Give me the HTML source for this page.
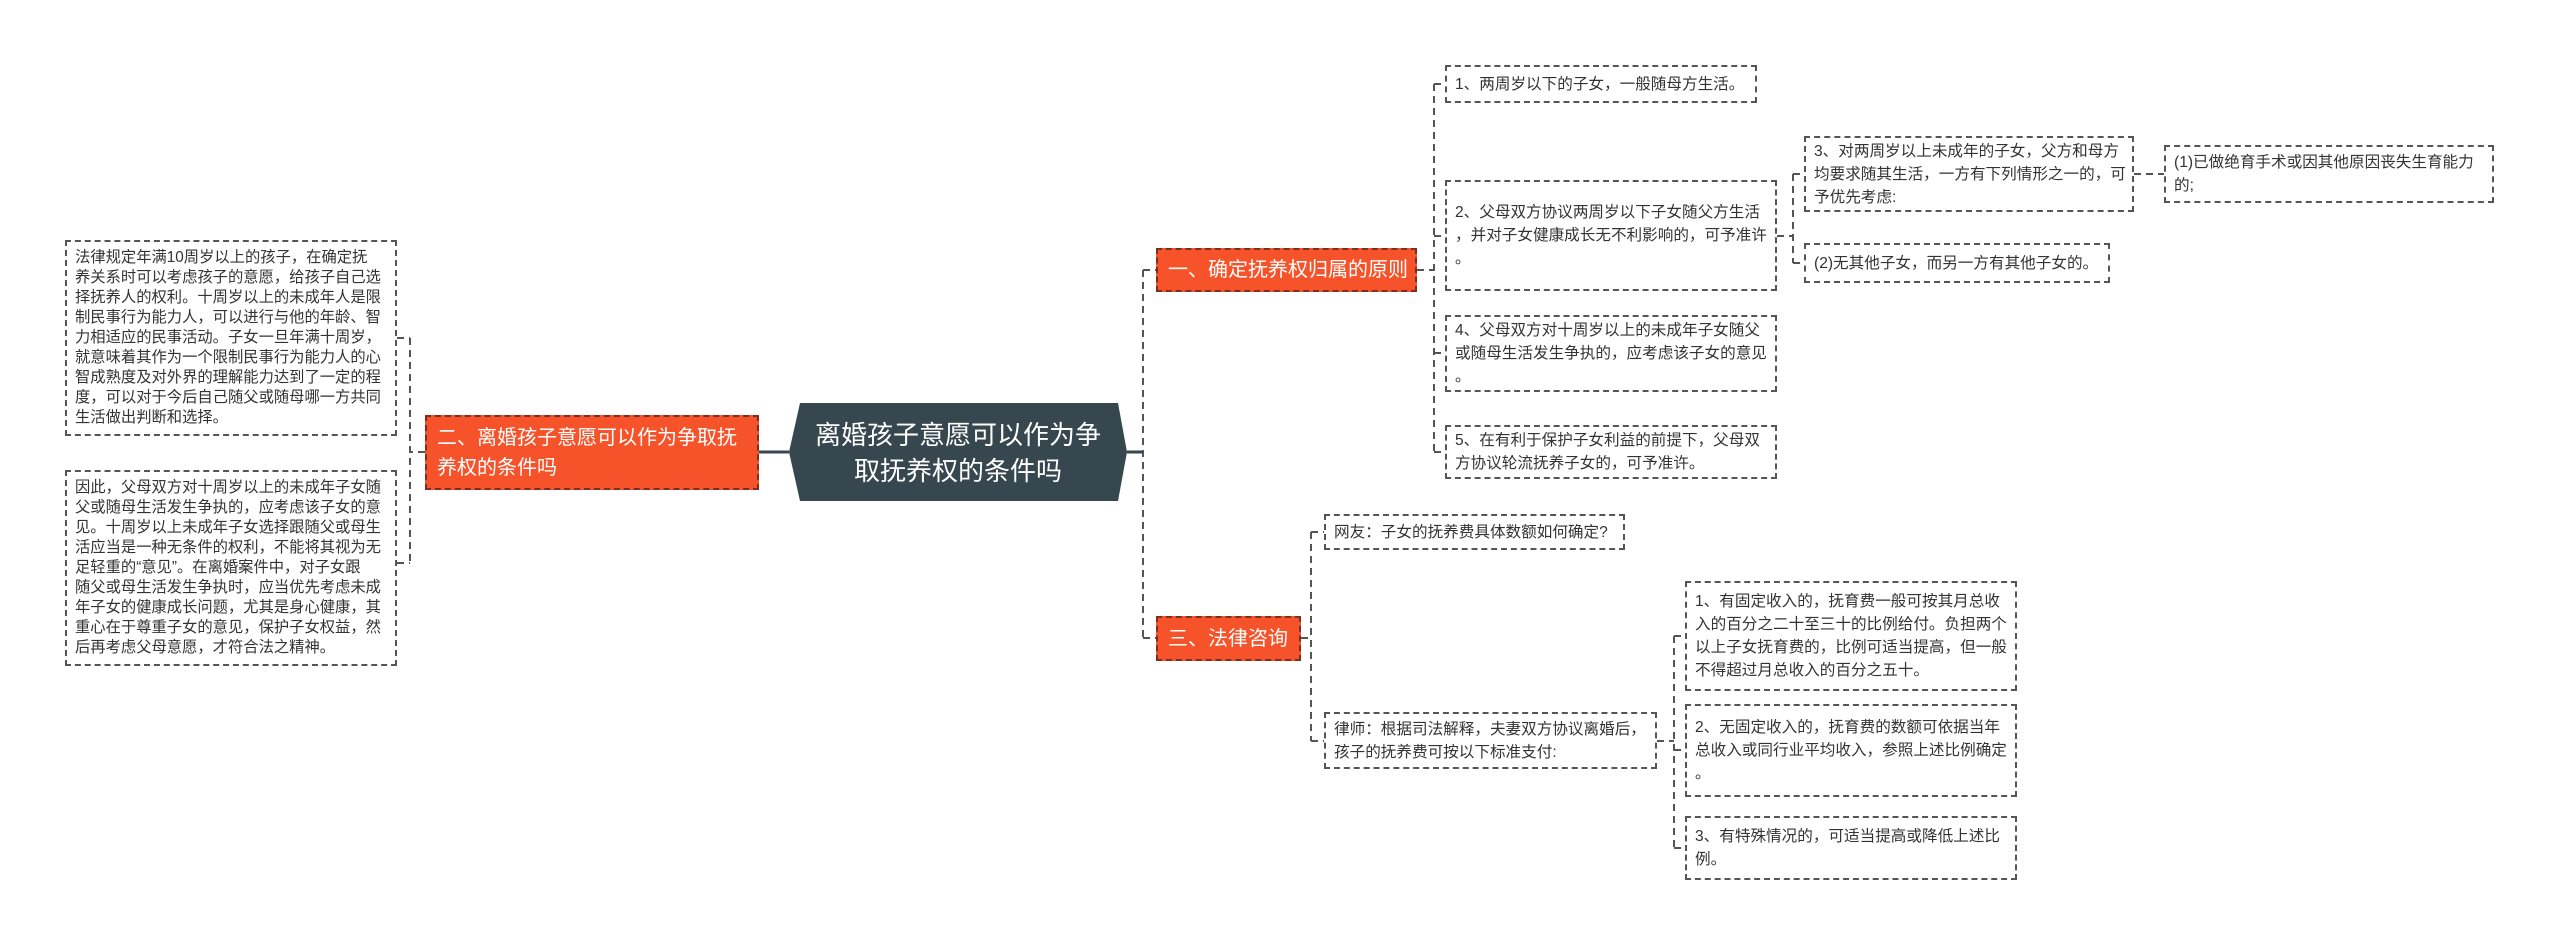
<!DOCTYPE html>
<html><head><meta charset="utf-8"><style>
html,body{margin:0;padding:0;background:#fff;}
body{width:2560px;height:947px;position:relative;overflow:hidden;font-family:"Liberation Sans","Noto Sans CJK SC",sans-serif;}
.b{position:absolute;box-sizing:border-box;border:2px dashed #555;color:#333;font-size:15.6px;line-height:23px;padding:0 8px;display:flex;flex-direction:column;justify-content:center;white-space:nowrap;background:#fff;overflow:hidden;}
.o{position:absolute;box-sizing:border-box;background:#f6532a;border:2px dashed #7a3020;color:#fff;font-size:20px;line-height:30px;padding:0 10px;display:flex;flex-direction:column;justify-content:center;white-space:nowrap;}
.l{line-height:20px;font-size:15.3px;}
svg{position:absolute;left:0;top:0;}
</style></head><body>
<svg width="2560" height="947">
<g stroke="#555" stroke-width="2" fill="none" stroke-dasharray="7 5">
<path d="M425 452 H410 M410 338 V563 M397 338 H410 M397 563 H410"/>
<path d="M1143 270 V638 M1143 270 H1156 M1143 638 H1156"/>
<path d="M1417 270 H1434 M1434 84 V452 M1434 84 H1445 M1434 236 H1445 M1434 353 H1445 M1434 452 H1445"/>
<path d="M1777 236 H1793 M1793 174 V263 M1793 174 H1804 M1793 263 H1804"/>
<path d="M2134 174 H2164"/>
<path d="M1301 638 H1311 M1311 532 V741 M1311 532 H1324 M1311 741 H1324"/>
<path d="M1657 741 H1674 M1674 636 V848 M1674 636 H1685 M1674 750 H1685 M1674 848 H1685"/>
</g>
<path d="M759 452 H789 M1127 452 H1143" stroke="#37474f" stroke-width="3"/>
<polygon points="800,403 1118,403 1127,452 1118,501 800,501 789,452" fill="#37474f"/>
<text x="958" y="444" fill="#fff" font-size="26" text-anchor="middle" font-family="Liberation Sans,Noto Sans CJK SC,sans-serif">离婚孩子意愿可以作为争</text>
<text x="958" y="480" fill="#fff" font-size="26" text-anchor="middle" font-family="Liberation Sans,Noto Sans CJK SC,sans-serif">取抚养权的条件吗</text>
</svg>

<div class="o" style="left:425px;top:415px;width:334px;height:75px;">二、离婚孩子意愿可以作为争取抚<br>养权的条件吗</div>
<div class="b l" style="left:65px;top:240px;width:332px;height:196px;">法律规定年满10周岁以上的孩子，在确定抚<br>养关系时可以考虑孩子的意愿，给孩子自己选<br>择抚养人的权利。十周岁以上的未成年人是限<br>制民事行为能力人，可以进行与他的年龄、智<br>力相适应的民事活动。子女一旦年满十周岁，<br>就意味着其作为一个限制民事行为能力人的心<br>智成熟度及对外界的理解能力达到了一定的程<br>度，可以对于今后自己随父或随母哪一方共同<br>生活做出判断和选择。</div>
<div class="b l" style="left:65px;top:470px;width:332px;height:196px;">因此，父母双方对十周岁以上的未成年子女随<br>父或随母生活发生争执的，应考虑该子女的意<br>见。十周岁以上未成年子女选择跟随父或母生<br>活应当是一种无条件的权利，不能将其视为无<br>足轻重的“意见”。在离婚案件中，对子女跟<br>随父或母生活发生争执时，应当优先考虑未成<br>年子女的健康成长问题，尤其是身心健康，其<br>重心在于尊重子女的意见，保护子女权益，然<br>后再考虑父母意愿，才符合法之精神。</div>

<div class="o" style="left:1156px;top:248px;width:261px;height:44px;">一、确定抚养权归属的原则</div>
<div class="o" style="left:1156px;top:616px;width:145px;height:45px;">三、法律咨询</div>

<div class="b" style="left:1445px;top:65px;width:312px;height:38px;">1、两周岁以下的子女，一般随母方生活。</div>
<div class="b" style="left:1445px;top:180px;width:332px;height:111px;">2、父母双方协议两周岁以下子女随父方生活<br>，并对子女健康成长无不利影响的，可予准许<br>。</div>
<div class="b" style="left:1445px;top:315px;width:332px;height:77px;">4、父母双方对十周岁以上的未成年子女随父<br>或随母生活发生争执的，应考虑该子女的意见<br>。</div>
<div class="b" style="left:1445px;top:425px;width:332px;height:54px;">5、在有利于保护子女利益的前提下，父母双<br>方协议轮流抚养子女的，可予准许。</div>
<div class="b" style="left:1804px;top:136px;width:330px;height:76px;">3、对两周岁以上未成年的子女，父方和母方<br>均要求随其生活，一方有下列情形之一的，可<br>予优先考虑:</div>
<div class="b" style="left:1804px;top:243px;width:306px;height:40px;">(2)无其他子女，而另一方有其他子女的。</div>
<div class="b" style="left:2164px;top:145px;width:330px;height:58px;">(1)已做绝育手术或因其他原因丧失生育能力<br>的;</div>

<div class="b" style="left:1324px;top:514px;width:301px;height:36px;">网友：子女的抚养费具体数额如何确定?</div>
<div class="b" style="left:1324px;top:712px;width:333px;height:57px;">律师：根据司法解释，夫妻双方协议离婚后，<br>孩子的抚养费可按以下标准支付:</div>
<div class="b" style="left:1685px;top:581px;width:332px;height:110px;">1、有固定收入的，抚育费一般可按其月总收<br>入的百分之二十至三十的比例给付。负担两个<br>以上子女抚育费的，比例可适当提高，但一般<br>不得超过月总收入的百分之五十。</div>
<div class="b" style="left:1685px;top:704px;width:332px;height:93px;">2、无固定收入的，抚育费的数额可依据当年<br>总收入或同行业平均收入，参照上述比例确定<br>。</div>
<div class="b" style="left:1685px;top:816px;width:332px;height:64px;">3、有特殊情况的，可适当提高或降低上述比<br>例。</div>
</body></html>
